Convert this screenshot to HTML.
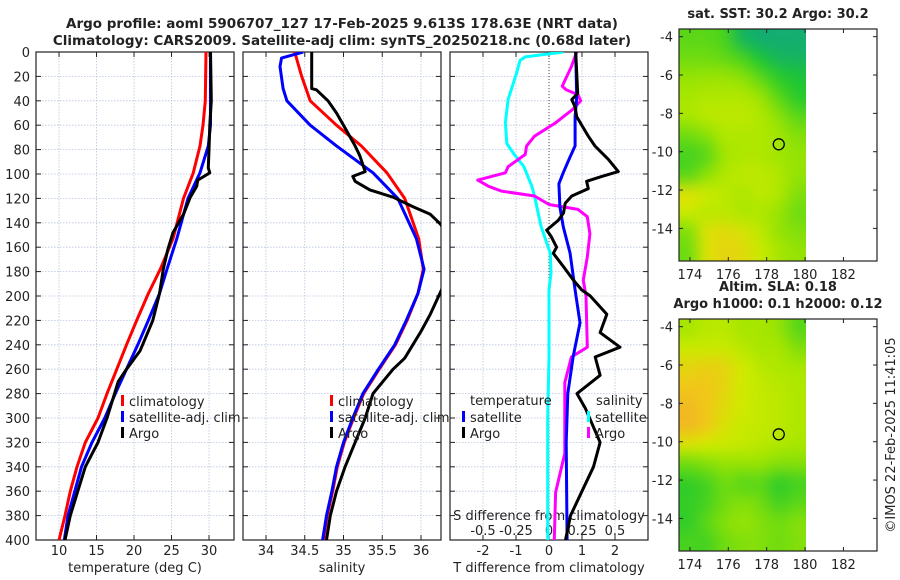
<!DOCTYPE html>
<html><head><meta charset="utf-8">
<style>
html,body{margin:0;padding:0;background:#fff;}
#wrap{position:relative;width:900px;height:580px;overflow:hidden;font-family:"DejaVu Sans","Liberation Sans",sans-serif;}
canvas{position:absolute;}
svg{position:absolute;left:0;top:0;}
text{font-family:"DejaVu Sans","Liberation Sans",sans-serif;fill:#222;}
</style></head>
<body>
<div id="wrap">
<canvas id="map1" width="127" height="232" style="left:679px;top:29px"></canvas>
<canvas id="map2" width="127" height="232" style="left:679px;top:319px"></canvas>
<svg id="svg" width="900" height="580" xmlns="http://www.w3.org/2000/svg"></svg>
</div>
<script>
// ---------- DATA ----------
const tClimDepth = [0,40,60,77,99,120,153,178,198,220,240,260,280,300,320,340,360,380,400];
const tClim = [29.6,29.5,29.2,28.8,27.9,26.6,25.2,23.5,21.9,20.35,19.0,17.7,16.4,15.2,13.5,12.4,11.5,10.8,10.0];
const tSatDepth = [0,40,60,77,99,120,153,178,198,220,240,260,280,300,320,340,360,380,400];
const tSat = [30.2,30.2,30.2,29.9,28.8,27.2,25.7,24.4,23.4,21.9,20.5,19.0,17.5,16.1,14.4,13.0,12.1,11.2,10.7];
const tArgoDepth = [0,40,60,80,95,99,105,110,119,133,148,162,178,198,220,245,260,270,300,320,340,360,380,400];
const tArgo = [30.2,30.3,30.1,30.0,29.9,30.1,28.5,28.35,27.5,26.6,25.2,24.5,23.9,23.4,22.5,20.8,19.0,17.9,16.4,15.2,13.5,12.5,11.5,10.8];

const sClimDepth = [0,20,40,60,77,99,120,153,178,198,220,240,260,280,300,320,340,360,380,400];
const sClim = [34.37,34.46,34.57,34.91,35.23,35.56,35.79,35.97,36.03,35.96,35.82,35.67,35.46,35.26,35.13,35.01,34.92,34.86,34.79,34.74];
const sSatDepth = [0,5,12,30,40,60,77,99,120,153,178,198,220,240,260,280,300,320,340,360,380,400];
const sSat = [34.48,34.20,34.18,34.22,34.27,34.57,34.91,35.38,35.70,35.94,36.04,35.96,35.81,35.66,35.45,35.25,35.12,35.00,34.91,34.85,34.78,34.73];
const sArgoDepth = [0,30,31,40,50,60,77,85,98,102,106,113,119,127,133,141,150,190,215,229,251,260,270,280,300,320,340,360,380,400];
const sArgo = [34.59,34.59,34.65,34.80,34.91,35.00,35.15,35.21,35.28,35.12,35.15,35.34,35.64,35.90,36.12,36.25,36.35,36.30,36.12,36.00,35.79,35.64,35.51,35.38,35.28,35.15,35.02,34.91,34.83,34.78];

const dCyanDepth = [0,4,7,17,39,58,75,83,94,110,118,143,165,181,195,250,300,400];
const dCyan = [0.11,-0.18,-0.22,-0.245,-0.31,-0.33,-0.32,-0.27,-0.19,-0.13,-0.11,-0.06,0.01,0.015,0.0,0.0,-0.01,-0.01];
const dMagDepth = [0,12,28,31,35,40,47,58,69,77,84,94,99,105,110,114,118,125,129,135,149,168,187,200,242,250,271,304,329,361,400];
const dMag = [0.21,0.17,0.10,0.13,0.22,0.24,0.18,0.05,-0.11,-0.17,-0.18,-0.31,-0.33,-0.54,-0.46,-0.36,-0.11,0.0,0.22,0.29,0.31,0.29,0.26,0.28,0.29,0.17,0.12,0.12,0.12,0.05,0.04];
const dBlueDepth = [0,37,53,77,86,99,108,127,143,165,195,222,250,280,320,400];
const dBlue = [0.81,0.84,0.79,0.79,0.64,0.43,0.30,0.33,0.43,0.64,0.79,0.94,0.73,0.57,0.52,0.55];
const dBlackDepth = [0,34,39,45,53,69,77,88,98,102,106,112,118,124,132,138,146,151,160,165,176,187,195,200,215,230,242,250,265,280,292,320,340,360,380,400];
const dBlack = [0.81,0.87,0.69,0.79,0.84,1.19,1.39,1.80,2.10,1.60,1.14,1.19,0.69,0.49,0.44,0.28,-0.07,0.06,0.23,0.13,0.44,0.74,0.99,1.25,1.75,1.55,2.15,1.40,1.55,0.85,1.10,1.55,1.35,1.00,0.65,0.50];

const depthTicks = [0,20,40,60,80,100,120,140,160,180,200,220,240,260,280,300,320,340,360,380,400];
const tTicks = [10,15,20,25,30];
const sTicks = [34,34.5,35,35.5,36];
const dtTicks = [-2,-1,0,1,2];
const dsTicks = [-0.5,-0.25,0,0.25,0.5];
const dsTickLabels = ["-0.5","-0.25","0","0.25","0.5"];
const lonTicks = [174,176,178,180,182];
const latTicks = [-4,-6,-8,-10,-12,-14];

const sstGrid = [
[0.40,0.40,0.35,0.12,0.05,0.05,0.05],
[0.45,0.45,0.42,0.35,0.22,0.12,0.10],
[0.55,0.56,0.56,0.52,0.40,0.28,0.22],
[0.60,0.62,0.62,0.62,0.56,0.40,0.28],
[0.60,0.65,0.66,0.66,0.62,0.52,0.40],
[0.45,0.52,0.62,0.62,0.62,0.58,0.50],
[0.35,0.40,0.58,0.62,0.62,0.58,0.55],
[0.40,0.52,0.62,0.66,0.66,0.62,0.55],
[0.75,0.70,0.66,0.62,0.66,0.62,0.50],
[0.70,0.66,0.66,0.62,0.62,0.56,0.45],
[0.50,0.75,0.78,0.75,0.66,0.56,0.50],
[0.45,0.75,0.80,0.78,0.70,0.60,0.55]];
const slaGrid = [
[0.60,0.65,0.65,0.60,0.60,0.55,0.40],
[0.70,0.70,0.70,0.65,0.60,0.60,0.50],
[0.80,0.82,0.80,0.72,0.65,0.62,0.60],
[0.85,0.85,0.80,0.72,0.68,0.65,0.62],
[0.90,0.85,0.78,0.72,0.68,0.66,0.62],
[0.90,0.85,0.75,0.70,0.68,0.66,0.62],
[0.75,0.72,0.70,0.68,0.65,0.62,0.60],
[0.45,0.50,0.55,0.55,0.55,0.50,0.50],
[0.30,0.35,0.45,0.40,0.40,0.30,0.35],
[0.30,0.35,0.45,0.50,0.45,0.35,0.40],
[0.30,0.40,0.50,0.55,0.50,0.45,0.50],
[0.35,0.35,0.45,0.50,0.50,0.45,0.50]];
const argoLon = 178.63, argoLat = -9.613;

// ---------- HELPERS ----------
const NS = "http://www.w3.org/2000/svg";
const svg = document.getElementById('svg');
function el(tag, attrs, parent){ const e=document.createElementNS(NS,tag); for(const k in attrs) e.setAttribute(k,attrs[k]); (parent||svg).appendChild(e); return e; }
function txt(x,y,s,opts,parent){ const t=el('text',Object.assign({x:x,y:y,'font-size':13},opts||{}),parent); t.textContent=s; return t; }

const TOP=52, BOT=540;
const yD = d => TOP + (BOT-TOP)*d/400;
const panels = [
 {name:'temperature-panel', x0:36, x1:234, v0:6.93, v1:33.33},
 {name:'salinity-panel', x0:243, x1:441, v0:33.703, v1:36.258},
 {name:'difference-panel', x0:450, x1:648, v0:-3.0, v1:3.0}
];
const xScale = (p,v) => p.x0 + (p.x1-p.x0)*(v-p.v0)/(p.v1-p.v0);
const xT = v => xScale(panels[0],v);
const xS = v => xScale(panels[1],v);
const xDT = v => xScale(panels[2],v);
const xDS = v => 549 + v*132;

const defs = el('defs',{});
panels.forEach((p,i)=>{
  const cp = el('clipPath',{id:'clip'+i},defs);
  el('rect',{x:p.x0,y:TOP,width:p.x1-p.x0,height:BOT-TOP},cp);
});

function line(xs, depths, xf, color, name, pi){
  const pts = xs.map((v,i)=>xf(v).toFixed(1)+','+yD(depths[i]).toFixed(1)).join(' ');
  const p = el('polyline',{points:pts,fill:'none',stroke:color,'stroke-width':3,'stroke-linejoin':'round','clip-path':'url(#clip'+pi+')'});
  
  
}

// titles
const t1 = txt(342,28,"Argo profile: aoml 5906707_127 17-Feb-2025 9.613S 178.63E (NRT data)",{'text-anchor':'middle','font-weight':'bold','font-size':13.5});
 
const t2 = txt(342,45,"Climatology: CARS2009. Satellite-adj clim: synTS_20250218.nc (0.68d later)",{'text-anchor':'middle','font-weight':'bold','font-size':13.5});
 

// panels frame/grid
panels.forEach((p,pi)=>{
  const g = el('g',{});
  
  
  depthTicks.forEach(d=>{
    el('line',{x1:p.x0,x2:p.x1,y1:yD(d),y2:yD(d),stroke:'#b8c4e0','stroke-width':0.8,'stroke-dasharray':'1.5,1.5'},g);
    el('line',{x1:p.x0,x2:p.x0+5,y1:yD(d),y2:yD(d),stroke:'#222'},g);
    el('line',{x1:p.x1-5,x2:p.x1,y1:yD(d),y2:yD(d),stroke:'#222'},g);
  });
  const ticks = pi===0?tTicks:(pi===1?sTicks:dtTicks);
  ticks.forEach(v=>{
    const x = xScale(p,v);
    el('line',{x1:x,x2:x,y1:TOP,y2:BOT,stroke:'#b8c4e0','stroke-width':0.8,'stroke-dasharray':'1.5,1.5'},g);
    el('line',{x1:x,x2:x,y1:BOT,y2:BOT-5,stroke:'#222'},g);
    el('line',{x1:x,x2:x,y1:TOP,y2:TOP+5,stroke:'#222'},g);
    const lab = txt(x,555,String(v),{'text-anchor':'middle'},g);
     
  });
  if(pi===2){
    el('line',{x1:xDT(0),x2:xDT(0),y1:TOP,y2:BOT,stroke:'#554433','stroke-width':1,'stroke-dasharray':'1,2'},g);
  }
  el('rect',{x:p.x0,y:TOP,width:p.x1-p.x0,height:BOT-TOP,fill:'none',stroke:'#222','stroke-width':1.2},g);
});
depthTicks.forEach(d=>{
  const l = txt(30,yD(d)+5,String(d),{'text-anchor':'end'});
   
});
const xl1=txt(135,572,"temperature (deg C)",{'text-anchor':'middle'});  
const xl2=txt(342,572,"salinity",{'text-anchor':'middle'});  
const xl3=txt(549,572,"T difference from climatology",{'text-anchor':'middle'});  
const xl4=txt(549,520,"S difference from climatology",{'text-anchor':'middle'});  
dsTicks.forEach((v,i)=>{
  const l=txt(xDS(v),535,dsTickLabels[i],{'text-anchor':'middle'});
   
});

// series
line(tClim,tClimDepth,xT,'#ff0000','temperature-climatology-line',0);
line(tSat,tSatDepth,xT,'#0000ff','temperature-satellite-line',0);
line(tArgo,tArgoDepth,xT,'#000000','temperature-argo-line',0);
line(sClim,sClimDepth,xS,'#ff0000','salinity-climatology-line',1);
line(sSat,sSatDepth,xS,'#0000ff','salinity-satellite-line',1);
line(sArgo,sArgoDepth,xS,'#000000','salinity-argo-line',1);
line(dCyan,dCyanDepth,xDS,'#00ffff','s-diff-satellite-line',2);
line(dMag,dMagDepth,xDS,'#ff00ff','s-diff-argo-line',2);
line(dBlue,dBlueDepth,xDT,'#0000ff','t-diff-satellite-line',2);
line(dBlack,dBlackDepth,xDT,'#000000','t-diff-argo-line',2);

// legends
function legItem(x,y,color,label,name){
  const g=el('g',{});
  
  
  el('rect',{x:x,y:y-11,width:3,height:11,fill:color},g);
  txt(x+8,y,label,{},g);
}
legItem(121,406,'#ff0000','climatology','legend-climatology');
legItem(121,422,'#0000ff','satellite-adj. clim','legend-satellite-adj');
legItem(121,438,'#000000','Argo','legend-argo');
legItem(330,406,'#ff0000','climatology','legend2-climatology');
legItem(330,422,'#0000ff','satellite-adj. clim','legend2-satellite-adj');
legItem(330,438,'#000000','Argo','legend2-argo');
const lt=txt(470,405,"temperature",{});  
const ls=txt(596,405,"salinity",{});  
legItem(462,422,'#0000ff','satellite','legend-t-satellite');
legItem(462,438,'#000000','Argo','legend-t-argo');
legItem(587,422,'#00ffff','satellite','legend-s-satellite');
legItem(587,438,'#ff00ff','Argo','legend-s-argo');

// ---------- MAPS ----------
const MX0=679, MX1=877, LON0=173.43, LON1=183.75;
const xLon = lon => MX0 + (MX1-MX0)*(lon-LON0)/(LON1-LON0);
const stops=[[0,[16,168,128]],[0.25,[32,200,48]],[0.45,[112,220,16]],[0.6,[168,230,0]],[0.72,[208,234,0]],[0.85,[240,200,24]],[1,[240,160,48]]];
function cmap(v){
  for(let i=1;i<stops.length;i++){ if(v<=stops[i][0]){ const a=stops[i-1],b=stops[i],f=(v-a[0])/(b[0]-a[0]); return a[1].map((c,k)=>Math.round(c+(b[1][k]-c)*f)); } }
  return stops[stops.length-1][1];
}
function drawMap(id, grid){
  const c=document.getElementById(id), ctx=c.getContext('2d');
  const rows=grid.length, cols=grid[0].length;
  const off=document.createElement('canvas'); off.width=cols; off.height=rows;
  const octx=off.getContext('2d'); const im=octx.createImageData(cols,rows);
  grid.forEach((r,ri)=>r.forEach((v,ci)=>{ const col=cmap(v),o=(ri*cols+ci)*4; im.data[o]=col[0];im.data[o+1]=col[1];im.data[o+2]=col[2];im.data[o+3]=255; }));
  octx.putImageData(im,0,0);
  ctx.imageSmoothingEnabled=true; ctx.imageSmoothingQuality='high';
  ctx.drawImage(off,0,0,c.width,c.height);
}
drawMap('map1',sstGrid);
drawMap('map2',slaGrid);

function mapFrame(top, bottom, latTop, name, title1, title2){
  const g=el('g',{});
  
  
  const yLat = lat => top + (bottom-top)*(latTop-lat)/(latTop-(-15.7));
  latTicks.forEach(lat=>{
    const y=yLat(lat);
    el('line',{x1:MX0,x2:MX0+4,y1:y,y2:y,stroke:'#222'},g);
    el('line',{x1:MX1-4,x2:MX1,y1:y,y2:y,stroke:'#222'},g);
    txt(673,y+5,String(lat),{'text-anchor':'end'},g);
  });
  lonTicks.forEach(lon=>{
    const x=xLon(lon);
    el('line',{x1:x,x2:x,y1:bottom,y2:bottom-4,stroke:'#222'},g);
    el('line',{x1:x,x2:x,y1:top,y2:top+4,stroke:'#222'},g);
    txt(x,bottom+18,String(lon),{'text-anchor':'middle'},g);
  });
  el('rect',{x:MX0,y:top,width:MX1-MX0,height:bottom-top,fill:'none',stroke:'#222','stroke-width':1.2},g);
  const c=el('circle',{cx:xLon(argoLon),cy:yLat(argoLat),r:5.5,fill:'none',stroke:'#000','stroke-width':1.3},g);
   
  if(title1){ txt(778,top-11,title1,{'text-anchor':'middle','font-weight':'bold'},g); }
  if(title2){ txt(778,top-28,title2,{'text-anchor':'middle','font-weight':'bold'},g); }
}
mapFrame(29,261,-3.6,'sst-map-axes',"sat. SST: 30.2 Argo: 30.2",null);
mapFrame(319,551,-3.6,'sla-map-axes',"Argo h1000: 0.1 h2000: 0.12","Altim. SLA: 0.18");

const cr=txt(0,0,"©IMOS 22-Feb-2025 11:41:05",{'text-anchor':'middle','transform':'translate(895,435) rotate(-90)'});
 
</script>
</body></html>
